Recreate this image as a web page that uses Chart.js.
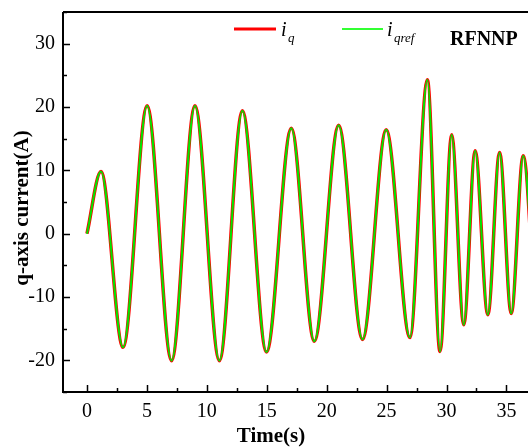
<!DOCTYPE html>
<html>
<head>
<meta charset="utf-8">
<script src="https://cdn.jsdelivr.net/npm/chart.js@4"></script>
<style>
html, body { margin: 0; padding: 0; background: #fff; overflow: hidden; }
#caja { width: 528px; height: 448px; }
</style>
</head>
<body>
<div id="caja"><canvas id="grafico" width="528" height="448"></canvas></div>
<script>
// Datos (inicio, picos y valles)
var tiempo = [0, 1.17, 3.01, 5.02, 7.06, 9.01, 11.05, 12.97, 14.98, 17.05, 18.97, 21.0,
    22.99, 24.97, 26.95, 28.4, 29.46, 30.43, 31.44, 32.39, 33.45, 34.43, 35.4, 36.4, 37.4];
var iq = [0, 9.8, -17.95, 20.2, -20.05, 20.2, -20.05, 19.4, -18.7, 16.65, -17.0, 17.1,
    -16.7, 16.4, -16.4, 24.3, -18.6, 15.6, -14.4, 13.1, -12.8, 12.8, -12.6, 12.3, -12.3];
var iqref = [0, 9.8, -17.95, 20.2, -20.05, 20.2, -20.05, 19.4, -18.7, 16.65, -17.0, 17.1,
    -16.7, 16.4, -16.4, 24.3, -18.6, 15.6, -14.4, 13.1, -12.8, 12.8, -12.6, 12.3, -12.3];

var ticksX = [0, 5, 10, 15, 20, 25, 30, 35];
var ticksXmenor = [2.5, 7.5, 12.5, 17.5, 22.5, 27.5, 32.5];
var ticksY = [-20, -10, 0, 10, 20, 30];
var ticksYmenor = [-25, -15, -5, 5, 15, 25, 35];

function puntos(xs, ys) {
    var res = [];
    for (var i = 0; i < xs.length; i++) {
        res.push({ x: xs[i], y: ys[i] });
    }
    return res;
}

var fuente = "'Liberation Serif', 'Times New Roman', serif";

// marco, ticks hacia adentro, leyenda y titulos
var extras = {
    id: 'extras',
    afterDraw: function (chart) {
        var ctx = chart.ctx;
        var a = chart.chartArea;
        var sx = chart.scales.x;
        var sy = chart.scales.y;
        ctx.save();
        ctx.strokeStyle = '#000';
        ctx.lineWidth = 2;
        ctx.beginPath();
        ctx.moveTo(a.left, a.top);
        ctx.lineTo(a.right, a.top);
        ctx.moveTo(a.left, a.top);
        ctx.lineTo(a.left, a.bottom);
        ctx.lineTo(a.right, a.bottom);
        ctx.stroke();

        ctx.lineWidth = 1.5;
        ctx.beginPath();
        ticksX.forEach(function (v) {
            var p = Math.round(sx.getPixelForValue(v)) + 0.5;
            ctx.moveTo(p, a.bottom); ctx.lineTo(p, a.bottom - 7);
        });
        ticksXmenor.forEach(function (v) {
            var p = Math.round(sx.getPixelForValue(v)) + 0.5;
            ctx.moveTo(p, a.bottom); ctx.lineTo(p, a.bottom - 4);
        });
        ticksY.forEach(function (v) {
            var p = Math.round(sy.getPixelForValue(v)) + 0.5;
            ctx.moveTo(a.left, p); ctx.lineTo(a.left + 7, p);
        });
        ticksYmenor.forEach(function (v) {
            var p = Math.round(sy.getPixelForValue(v)) + 0.5;
            ctx.moveTo(a.left, p); ctx.lineTo(a.left + 4, p);
        });
        ctx.stroke();

        // leyenda
        ctx.lineWidth = 3;
        ctx.strokeStyle = '#ff0000';
        ctx.beginPath(); ctx.moveTo(234, 29); ctx.lineTo(276, 29); ctx.stroke();
        ctx.lineWidth = 2;
        ctx.strokeStyle = '#33ff33';
        ctx.beginPath(); ctx.moveTo(342, 29); ctx.lineTo(383, 29); ctx.stroke();
        ctx.fillStyle = '#000';
        ctx.textBaseline = 'alphabetic';
        ctx.textAlign = 'left';
        ctx.font = 'italic 20px ' + fuente;
        ctx.fillText('i', 281, 36);
        ctx.fillText('i', 387, 36);
        ctx.font = 'italic 13px ' + fuente;
        ctx.fillText('q', 288, 42);
        ctx.fillText('qref', 394, 42);
        ctx.font = 'bold 20px ' + fuente;
        ctx.fillText('RFNNP', 450, 45);

        // titulos de ejes
        ctx.font = 'bold 21px ' + fuente;
        ctx.textAlign = 'center';
        ctx.fillText('Time(s)', 271, 442);
        ctx.translate(28, 208);
        ctx.rotate(-Math.PI / 2);
        ctx.fillText('q-axis current(A)', 0, 0);
        ctx.restore();
    }
};

new Chart(document.getElementById('grafico').getContext('2d'), {
    type: 'line',
    data: {
        datasets: [
            {
                label: 'iq',
                data: puntos(tiempo, iq),
                borderColor: '#ff0000',
                borderWidth: 3.5,
                order: 2
            },
            {
                label: 'iqref',
                data: puntos(tiempo, iqref),
                borderColor: '#00e600',
                borderWidth: 2,
                order: 1
            }
        ]
    },
    options: {
        responsive: false,
        animation: false,
        devicePixelRatio: 1,
        layout: { padding: { top: 12, right: 0, left: 0, bottom: 0 } },
        elements: {
            point: { radius: 0 },
            line: { cubicInterpolationMode: 'monotone', fill: false }
        },
        plugins: {
            legend: { display: false },
            tooltip: { enabled: false }
        },
        scales: {
            x: {
                type: 'linear',
                min: -2,
                max: 36.8,
                grid: { display: false, drawTicks: false },
                border: { display: false },
                ticks: {
                    color: '#000',
                    padding: 8,
                    maxRotation: 0,
                    font: { family: fuente, size: 20 }
                },
                afterBuildTicks: function (s) {
                    s.ticks = ticksX.map(function (v) { return { value: v }; });
                },
                afterFit: function (s) {
                    s.height = 56;
                    s.paddingLeft = 0;
                    s.paddingRight = 0;
                }
            },
            y: {
                type: 'linear',
                min: -25,
                max: 35,
                grid: { display: false, drawTicks: false },
                border: { display: false },
                ticks: {
                    color: '#000',
                    padding: 8,
                    font: { family: fuente, size: 20 }
                },
                afterBuildTicks: function (s) {
                    s.ticks = ticksY.map(function (v) { return { value: v }; });
                },
                afterFit: function (s) {
                    s.width = 63;
                    s.paddingTop = 0;
                    s.paddingBottom = 0;
                }
            }
        }
    },
    plugins: [extras]
});
</script>
</body>
</html>
